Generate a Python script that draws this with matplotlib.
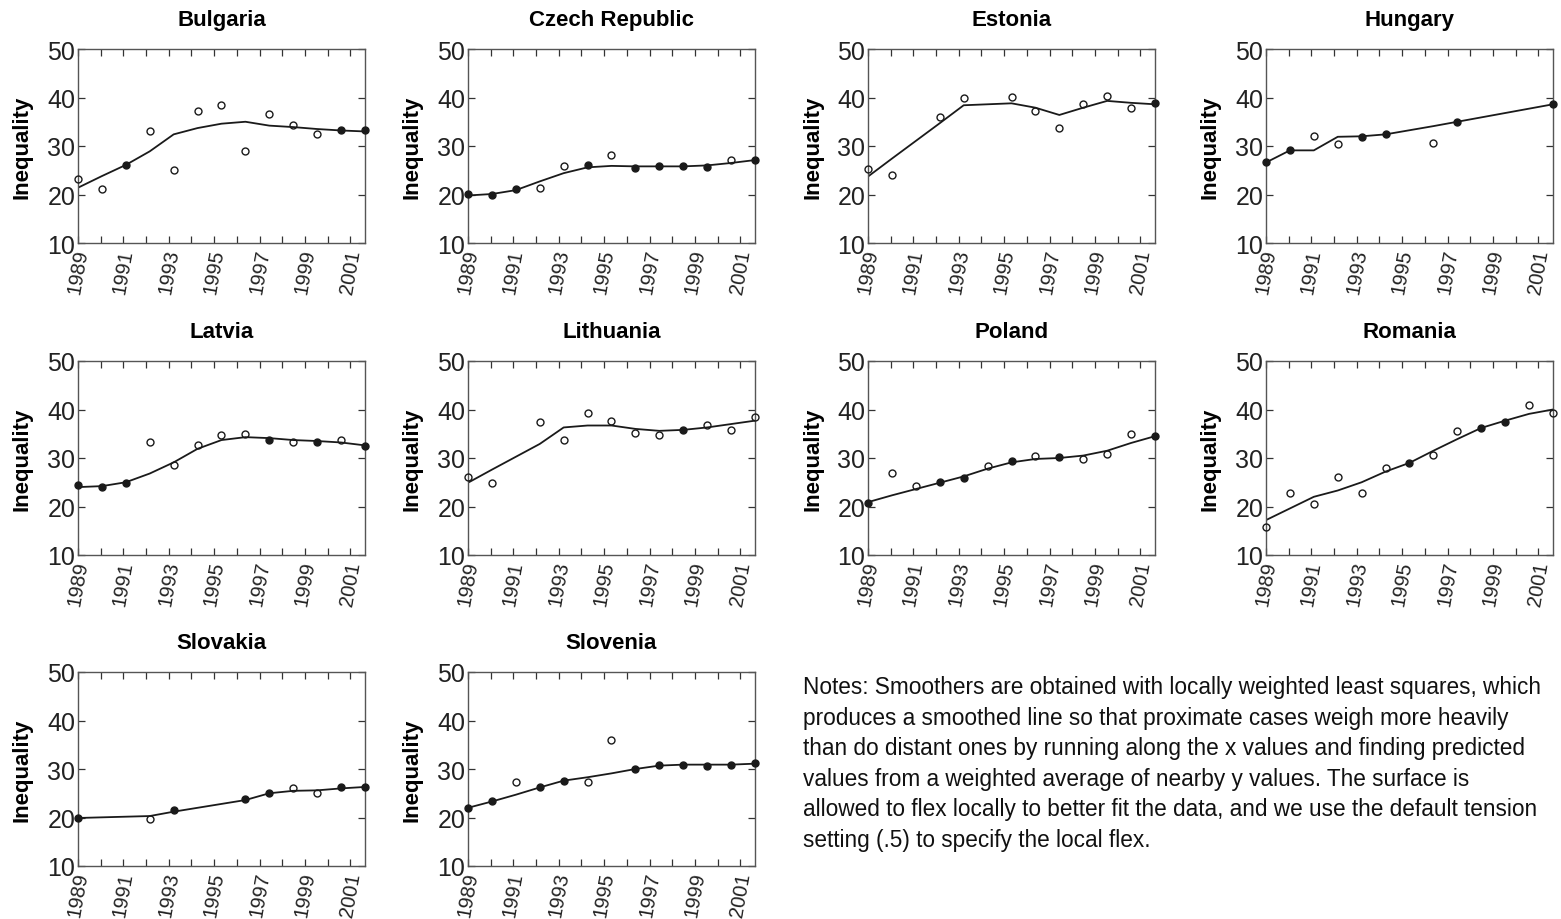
"""Income inequality in ten post-communist countries, 1989-2001, with smoothers."""

import matplotlib

matplotlib.use("Agg")
import matplotlib.pyplot as plt
import numpy as np

plt.rcParams["font.family"] = ["Liberation Sans", "DejaVu Sans"]

YEARS = list(range(1989, 2002))
N = None

COUNTRIES = [
    "Bulgaria", "Czech Republic", "Estonia", "Hungary",
    "Latvia", "Lithuania", "Poland", "Romania",
    "Slovakia", "Slovenia",
]

# observed inequality (one value per year, None = missing)
BULGARIA = [23.2, 21.1, 26.1, 33.0, 25.0, 37.3, 38.4, 29.0, 36.5, 34.4, 32.5, 33.2, 33.3]
CZECH = [20.2, 20.0, 21.1, 21.3, 25.8, 26.0, 28.2, 25.4, 25.9, 25.8, 25.6, 27.2, 27.2]
ESTONIA = [25.2, 24.0, N, 36.0, 39.8, N, 40.1, 37.3, 33.7, 38.7, 40.4, 37.9, 38.8]
HUNGARY = [26.6, 29.1, 32.1, 30.4, 31.9, 32.4, N, 30.7, 35.0, N, N, N, 38.6]
LATVIA = [24.4, 24.0, 24.9, 33.4, 28.5, 32.7, 34.8, 35.0, 33.7, 33.2, 33.4, 33.8, 32.4]
LITHUANIA = [26.1, 24.9, N, 37.4, 33.8, 39.2, 37.6, 35.1, 34.8, 35.8, 36.9, 35.8, 38.5]
POLAND = [20.7, 27.0, 24.2, 25.0, 25.9, 28.3, 29.4, 30.4, 30.3, 29.7, 30.9, 35.0, 34.5]
ROMANIA = [15.7, 22.8, 20.5, 26.1, 22.8, 27.9, 28.9, 30.7, 35.5, 36.1, 37.5, 40.9, 39.2]
SLOVAKIA = [19.9, N, N, 19.6, 21.5, N, N, 23.8, 25.0, 26.1, 25.1, 26.3, 26.3]
SLOVENIA = [22.0, 23.3, 27.4, 26.2, 27.6, 27.4, 36.0, 30.0, 30.9, 30.9, 30.6, 30.9, 31.2]

# smoothed line
BULGARIA_FIT = [21.4, 23.8, 26.1, 28.9, 32.4, 33.7, 34.6, 35.0, 34.2, 33.9, 33.5, 33.2, 33.0]
CZECH_FIT = [19.8, 20.1, 20.9, 22.7, 24.4, 25.6, 25.9, 25.8, 25.8, 25.8, 26.0, 26.5, 27.1]
ESTONIA_FIT = [23.7, 27.4, N, 34.7, 38.4, N, 38.8, 37.9, 36.4, 37.9, 39.3, 38.9, 38.6]
HUNGARY_FIT = [26.6, 29.1, 29.1, 31.9, 32.0, 32.4, N, 34.1, 35.0, N, N, N, 38.6]
LATVIA_FIT = [24.0, 24.2, 25.0, 26.8, 29.1, 31.9, 33.7, 34.3, 34.1, 33.7, 33.5, 33.2, 32.6]
LITHUANIA_FIT = [24.9, 27.6, N, 32.9, 36.3, 36.7, 36.7, 36.0, 35.6, 35.8, 36.3, 37.0, 37.7]
POLAND_FIT = [20.9, 22.3, 23.6, 24.9, 26.2, 27.8, 29.1, 29.8, 30.0, 30.5, 31.5, 33.1, 34.5]
ROMANIA_FIT = [17.2, 19.6, 22.0, 23.3, 25.0, 27.2, 29.0, 31.5, 33.9, 36.2, 37.7, 39.1, 40.0]
SLOVAKIA_FIT = [19.9, N, N, 20.3, 21.2, N, N, 23.6, 25.0, 25.5, 25.6, 26.0, 26.3]
SLOVENIA_FIT = [22.0, 23.3, 24.7, 26.2, 27.6, 28.3, 29.1, 30.0, 30.7, 30.9, 30.9, 30.9, 31.1]

OBSERVED = [BULGARIA, CZECH, ESTONIA, HUNGARY, LATVIA, LITHUANIA, POLAND, ROMANIA, SLOVAKIA, SLOVENIA]
FITTED = [BULGARIA_FIT, CZECH_FIT, ESTONIA_FIT, HUNGARY_FIT, LATVIA_FIT, LITHUANIA_FIT,
          POLAND_FIT, ROMANIA_FIT, SLOVAKIA_FIT, SLOVENIA_FIT]

Y_TICKS = [10, 20, 30, 40, 50]

NOTES = (
    "Notes: Smoothers are obtained with locally weighted least squares, which\n"
    "produces a smoothed line so that proximate cases weigh more heavily\n"
    "than do distant ones by running along the x values and finding predicted\n"
    "values from a weighted average of nearby y values. The surface is\n"
    "allowed to flex locally to better fit the data, and we use the default tension\n"
    "setting (.5) to specify the local flex."
)

W, H = 1561, 920
COL_LEFT = [78, 468, 868, 1266]
ROW_TOP = [50, 362, 673]
AX_W, AX_H = 287, 194
TICK_SPAN = 12.65  # the year ticks are spaced a little tighter than the data
INK = "#1a1a1a"


def to_arr(vals):
    return np.array([np.nan if v is None else v for v in vals], dtype=float)


fig = plt.figure(figsize=(W / 100, H / 100), dpi=100)

years = np.array(YEARS, dtype=float)
tick_pos = YEARS[0] + np.arange(len(YEARS)) * (YEARS[-1] - YEARS[0]) / TICK_SPAN
tick_lab = [str(y) if k % 2 == 0 else "" for k, y in enumerate(YEARS)]

for i, name in enumerate(COUNTRIES):
    r, c = divmod(i, 4)
    left = COL_LEFT[c] / W
    bottom = 1 - (ROW_TOP[r] + AX_H) / H
    ax = fig.add_axes([left, bottom, AX_W / W, AX_H / H])

    obs = to_arr(OBSERVED[i])
    fit = to_arr(FITTED[i])
    m = ~np.isnan(fit)
    ax.plot(years[m], fit[m], color=INK, lw=1.3, zorder=2)

    # circles sitting on the smoother blur into dots in the print
    on_line = np.abs(obs - fit) < 0.45
    ax.plot(years[~on_line], obs[~on_line], linestyle="none", marker="o", ms=5,
            mfc="none", mec=INK, mew=1.0, zorder=3, clip_on=False)
    ax.plot(years[on_line], obs[on_line], linestyle="none", marker="o", ms=5,
            mfc=INK, mec=INK, mew=1.0, zorder=3, clip_on=False)

    ax.set_xlim(YEARS[0], YEARS[-1])
    ax.set_ylim(10, 50)
    ax.set_yticks(Y_TICKS)
    ax.set_xticks(tick_pos)
    ax.set_xticklabels(tick_lab, rotation=80, ha="center", va="top", fontsize=14.5)
    ax.tick_params(direction="in", length=5, width=0.9, top=True, right=True,
                   pad=3, colors="#333", labelcolor="#222")
    ax.tick_params(axis="y", labelsize=18, pad=2)
    for s in ax.spines.values():
        s.set_color("#555")
        s.set_linewidth(1.0)

    ax.set_title(name, fontsize=16, fontweight="bold", pad=17)
    ax.set_ylabel("Inequality", fontsize=16, fontweight="bold")
    ax.yaxis.set_label_coords(-45 / AX_W, 0.5)

fig.text(803 / W, 1 - 676 / H, NOTES, ha="left", va="top", fontsize=16.3,
         linespacing=1.42, color="#111")

fig.savefig("out.png", dpi=100)
